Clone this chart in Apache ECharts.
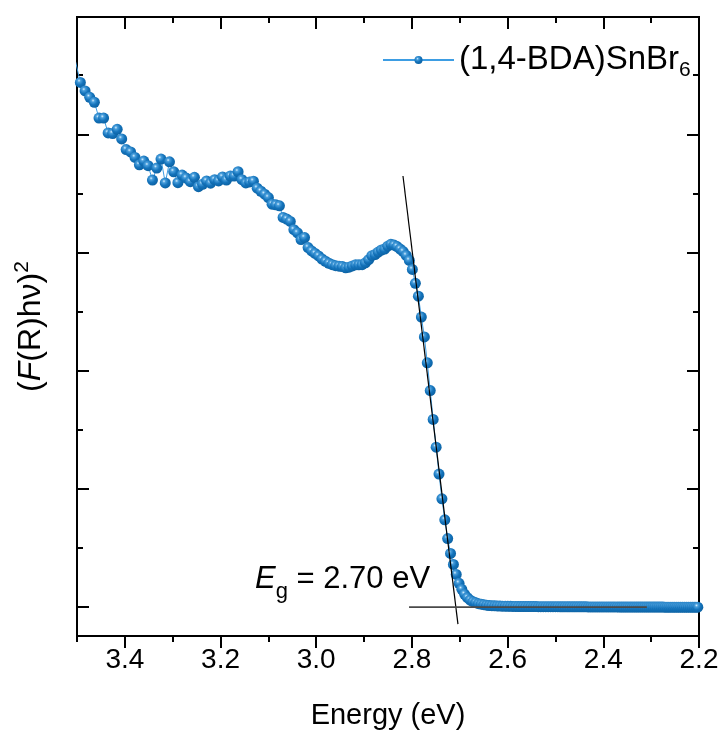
<!DOCTYPE html>
<html><head><meta charset="utf-8">
<script src="https://cdn.jsdelivr.net/npm/echarts@6/dist/echarts.min.js"></script>
<style>html,body{margin:0;padding:0;background:#fff}#c{width:726px;height:738px}</style>
</head><body><div id="c"></div>
<script>
// photon energy (eV) of each measured point
const energy = [
3.5028,3.4930,3.4831,3.4734,3.4637,3.4540,3.4444,3.4349,3.4254,3.4160,
3.4066,3.3973,3.3880,3.3787,3.3696,3.3604,3.3514,3.3423,3.3333,3.3244,
3.3155,3.3067,3.2979,3.2891,3.2804,3.2718,3.2632,3.2546,3.2461,3.2376,
3.2292,3.2208,3.2124,3.2041,3.1959,3.1877,3.1795,3.1714,3.1633,3.1552,
3.1472,3.1392,3.1313,3.1234,3.1156,3.1078,3.1000,3.0923,3.0846,3.0769,
3.0693,3.0617,3.0542,3.0467,3.0392,3.0318,3.0244,3.0170,3.0097,3.0024,
2.9952,2.9880,2.9808,2.9736,2.9665,2.9594,2.9524,2.9454,2.9384,2.9314,
2.9245,2.9176,2.9108,2.9040,2.8972,2.8904,2.8837,2.8770,2.8704,2.8637,
2.8571,2.8506,2.8440,2.8375,2.8311,2.8246,2.8182,2.8118,2.8054,2.7991,
2.7928,2.7865,2.7803,2.7740,2.7679,2.7617,2.7556,2.7494,2.7434,2.7373,
2.7313,2.7253,2.7193,2.7133,2.7074,2.7015,2.6957,2.6898,2.6840,2.6782,
2.6724,2.6667,2.6609,2.6552,2.6496,2.6439,2.6383,2.6327,2.6271,2.6216,
2.6160,2.6105,2.6050,2.5996,2.5941,2.5887,2.5833,2.5780,2.5726,2.5673,
2.5620,2.5567,2.5514,2.5462,2.5410,2.5358,2.5306,2.5255,2.5203,2.5152,
2.5101,2.5051,2.5000,2.4950,2.4900,2.4850,2.4800,2.4750,2.4701,2.4652,
2.4603,2.4554,2.4506,2.4458,2.4409,2.4361,2.4314,2.4266,2.4219,2.4172,
2.4125,2.4078,2.4031,2.3985,2.3938,2.3892,2.3846,2.3800,2.3755,2.3709,
2.3664,2.3619,2.3574,2.3529,2.3485,2.3440,2.3396,2.3352,2.3308,2.3265,
2.3221,2.3178,2.3134,2.3091,2.3048,2.3006,2.2963,2.2921,2.2878,2.2836,
2.2794,2.2752,2.2711,2.2669,2.2628,2.2587,2.2545,2.2505,2.2464,2.2423,
2.2383,2.2342,2.2302,2.2262,2.2222,2.2182,2.2143,2.2103,2.2064,2.2025,
2.1986];
// (F(R)hv)^2, arbitrary units
const absorb = [
4.611,4.439,4.367,4.313,4.271,4.137,4.137,4.011,4.006,4.042,
3.961,3.871,3.851,3.804,3.742,3.773,3.734,3.613,3.714,3.790,
3.588,3.767,3.683,3.591,3.655,3.630,3.599,3.636,3.557,3.577,
3.605,3.586,3.616,3.605,3.639,3.613,3.647,3.647,3.683,3.616,
3.588,3.597,3.603,3.544,3.518,3.493,3.465,3.409,3.403,3.395,
3.297,3.283,3.263,3.193,3.166,3.109,3.126,3.042,3.013,2.992,
2.971,2.945,2.926,2.909,2.897,2.888,2.884,2.881,2.871,2.876,
2.886,2.896,2.896,2.897,2.913,2.939,2.973,2.983,3.004,3.021,
3.029,3.053,3.069,3.063,3.050,3.029,3.008,2.975,2.933,2.857,
2.739,2.630,2.454,2.286,2.067,1.832,1.588,1.353,1.126,0.916,
0.739,0.580,0.454,0.361,0.277,0.202,0.151,0.109,0.080,0.059,
0.046,0.038,0.029,0.025,0.021,0.017,0.014,0.012,0.011,0.010,
0.009,0.008,0.008,0.007,0.007,0.006,0.006,0.005,0.005,0.005,
0.005,0.005,0.005,0.005,0.005,0.004,0.004,0.004,0.004,0.004,
0.004,0.004,0.004,0.004,0.003,0.003,0.003,0.003,0.003,0.003,
0.003,0.003,0.003,0.003,0.003,0.003,0.002,0.002,0.002,0.002,
0.002,0.002,0.002,0.002,0.002,0.002,0.002,0.002,0.002,0.002,
0.001,0.001,0.001,0.001,0.001,0.001,0.001,0.001,0.001,0.001,
0.001,0.001,0.001,0.001,0.001,0.001,0.001,0.001,0.001,0.001,
0.001,0.001,0.000,0.000,0.000,0.000,0.000,0.000,0.000,0.000,
0.000,0.000,0.000,0.000,0.000,0.000,0.000,0.000,0.000,0.000,
0.000];
const tangentLine = [[2.8187, 3.647], [2.7038, -0.143]];
const baselineFit = [[2.806, 0], [2.309, 0]];
const xMajorTicks = [2.2, 2.4, 2.6, 2.8, 3.0, 3.2, 3.4];
const xMinorTicks = [2.3, 2.5, 2.7, 2.9, 3.1, 3.3, 3.5];
const yMajorTicks = [0, 1, 2, 3, 4];
const yMinorTicks = [0.5, 1.5, 2.5, 3.5, 4.5];
const seriesName = '(1,4-BDA)SnBr6';

const FONT = '"Liberation Sans", Arial, Helvetica, sans-serif';
const chart = echarts.init(document.getElementById('c'), null, {renderer: 'canvas'});
const seriesData = energy.map((e, i) => [e, absorb[i]]);

function xAx(position, ticks, len, inside, labels) {
  return {
    type: 'value', min: 2.2, max: 3.5, inverse: true, position: position,
    splitLine: {show: false},
    axisLine: {show: true, onZero: false, lineStyle: {color: '#000', width: 2}},
    axisTick: {show: true, inside: inside, length: len, customValues: ticks,
               lineStyle: {color: '#000', width: 2}},
    axisLabel: labels ? {show: true, customValues: xMajorTicks, margin: 8,
               formatter: v => v.toFixed(1), fontSize: 28, fontFamily: FONT,
               color: '#000', lineHeight: 32} : {show: false},
    name: labels ? 'Energy (eV)' : '', nameLocation: 'middle', nameGap: 63,
    nameTextStyle: {fontSize: 29, fontFamily: FONT, color: '#000', lineHeight: 34}
  };
}
function yAx(position, ticks, len, withName) {
  return {
    type: 'value', min: -0.244, max: 4.992, position: position,
    splitLine: {show: false},
    axisLine: {show: true, onZero: false, lineStyle: {color: '#000', width: 2}},
    axisTick: {show: true, inside: true, length: len, customValues: ticks,
               lineStyle: {color: '#000', width: 2}},
    axisLabel: {show: false},
    name: withName ? '({i|F}(R)hν){sup|2}' : '', nameLocation: 'middle', nameRotate: 90,
    nameGap: 27,
    nameTextStyle: {fontSize: 32, fontFamily: FONT, color: '#000', lineHeight: 38,
      rich: {
        i: {fontStyle: 'italic', fontSize: 32, fontFamily: FONT, color: '#000', lineHeight: 38},
        sup: {fontSize: 21, fontFamily: FONT, color: '#000', verticalAlign: 'top', lineHeight: 22}
      }}
  };
}

const markerColor = new echarts.graphic.RadialGradient(0.38, 0.34, 0.72, [
  {offset: 0, color: '#d6eeff'},
  {offset: 0.2, color: '#4a9fdc'},
  {offset: 0.55, color: '#1473bb'},
  {offset: 1, color: '#0a5f9f'}
]);

chart.setOption({
  animation: false,
  backgroundColor: '#fff',
  grid: {left: 77, right: 27, top: 17, bottom: 98, containLabel: false},
  xAxis: [
    xAx('bottom', xMajorTicks, 12, false, true),
    xAx('bottom', xMinorTicks, 6, false, false),
    xAx('top', xMajorTicks, 12, true, false),
    xAx('top', xMinorTicks, 6, true, false)
  ],
  yAxis: [
    yAx('left', yMajorTicks, 12, true),
    yAx('left', yMinorTicks, 6, false),
    yAx('right', yMajorTicks, 12, false),
    yAx('right', yMinorTicks, 6, false)
  ],
  legend: {
    left: 377, top: 36, itemWidth: 71, itemHeight: 10, itemGap: 0,
    data: [seriesName],
    formatter: () => '(1,4-BDA)SnBr{sub|6}',
    textStyle: {fontSize: 33, fontFamily: FONT, color: '#000', lineHeight: 38,
      rich: {sub: {fontSize: 21, fontFamily: FONT, color: '#000', verticalAlign: 'top',
                   lineHeight: 14, padding: [19, 0, 0, 0]}}}
  },
  graphic: [{
    type: 'text', left: 255, top: 561, z: 100,
    style: {
      text: '{i|E}{s|g} = 2.70 eV',
      font: '31px ' + FONT, fill: '#000', lineHeight: 36,
      rich: {
        i: {fontStyle: 'italic', fontSize: 31, fontFamily: FONT, fill: '#000', lineHeight: 36},
        s: {fontSize: 22, fontFamily: FONT, fill: '#000', verticalAlign: 'top',
            lineHeight: 14, padding: [20, 0, 0, 0]}
      }
    }
  }],
  series: [
    {
      name: seriesName, type: 'line', data: seriesData, xAxisIndex: 0, yAxisIndex: 0,
      symbol: 'circle', symbolSize: 11, showAllSymbol: true, clip: true,
      lineStyle: {color: '#3d9de3', width: 1},
      itemStyle: {color: markerColor, borderWidth: 0},
      emphasis: {disabled: true}, z: 2
    },
    {
      name: 'tangent', type: 'line', data: tangentLine, xAxisIndex: 0, yAxisIndex: 0,
      symbol: 'none', lineStyle: {color: '#000', width: 1.2}, z: 3, silent: true
    },
    {
      name: 'baseline', type: 'line', data: baselineFit, xAxisIndex: 0, yAxisIndex: 0,
      symbol: 'none', lineStyle: {color: '#4a4a4a', width: 1.6}, z: 3, silent: true
    }
  ]
});
</script></body></html>
